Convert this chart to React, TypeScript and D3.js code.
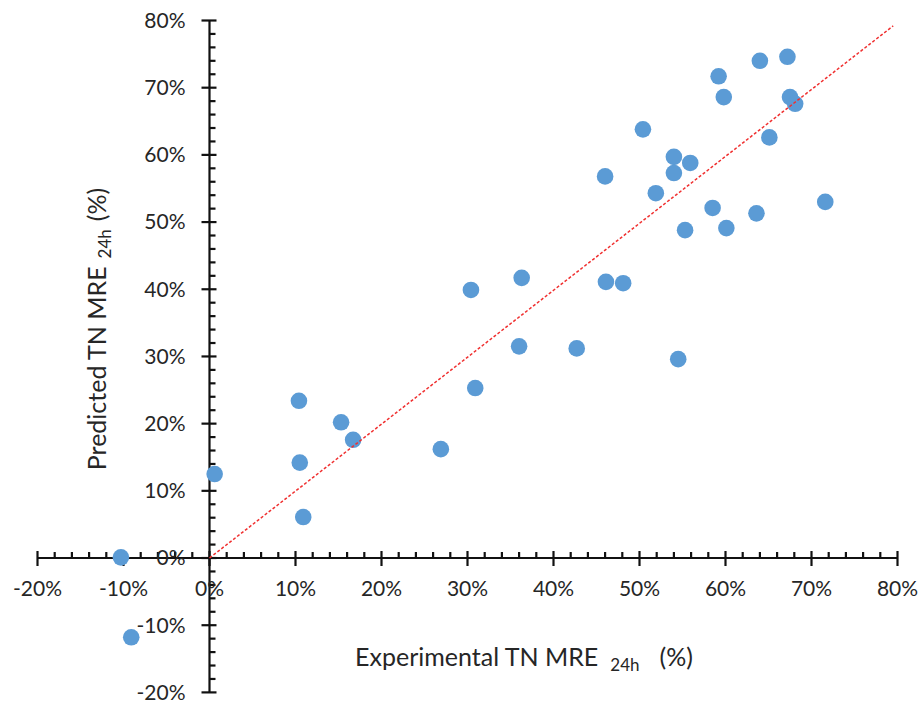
import { useEffect, useRef } from "react";
import * as d3 from "d3";

// experimental vs predicted TN MRE 24h, in %
const experimental = [
  -10.3, -9.1, 0.6, 10.4, 10.5, 10.9, 15.3, 16.7, 26.9, 30.4, 30.9, 36.0,
  36.3, 42.7, 46.1, 48.1, 46.0, 50.4, 54.0, 54.0, 55.9, 51.9, 54.5, 55.3,
  58.5, 60.1, 59.2, 59.8, 64.0, 67.2, 67.5, 68.1, 65.1, 63.6, 71.6,
];
const predicted = [
  0.1, -11.8, 12.5, 23.4, 14.2, 6.1, 20.2, 17.6, 16.2, 39.9, 25.3, 31.5,
  41.7, 31.2, 41.1, 40.9, 56.8, 63.8, 59.7, 57.3, 58.8, 54.3, 29.6, 48.8,
  52.1, 49.1, 71.7, 68.6, 74.0, 74.6, 68.6, 67.6, 62.6, 51.3, 53.0,
];
const majorTicks = [-20, -10, 0, 10, 20, 30, 40, 50, 60, 70, 80];
const fitLine = [
  [0, 0],
  [79.5, 79.2],
];

export default function App() {
  const svgRef = useRef<SVGSVGElement | null>(null);

  useEffect(() => {
    document.body.style.margin = "0";
    const width = 923;
    const height = 705;
    const svg = d3.select(svgRef.current);
    svg.selectAll("*").remove();
    svg.attr("width", width).attr("height", height);

    svg.append("rect").attr("width", width).attr("height", height).attr("fill", "#fff");

    const x = d3.scaleLinear().domain([-20, 80]).range([37.5, 897.5]);
    const y = d3.scaleLinear().domain([-20, 80]).range([692.4, 20.5]);

    const font = "Lato, 'Open Sans', sans-serif";
    const textColor = "#262626";
    const minorTicks = d3.range(-20, 80.01, 2).filter((v) => Math.round(v) % 10 !== 0);

    const axes = svg.append("g").attr("stroke", "#111").attr("stroke-width", 2.2);

    // x axis at y = 0
    axes.append("line")
      .attr("x1", x(-20)).attr("x2", x(80))
      .attr("y1", y(0)).attr("y2", y(0));
    axes.selectAll(".xmaj").data(majorTicks).join("line")
      .attr("class", "xmaj")
      .attr("x1", (d) => x(d)).attr("x2", (d) => x(d))
      .attr("y1", y(0) - 7).attr("y2", y(0) + 8);
    axes.selectAll(".xmin").data(minorTicks).join("line")
      .attr("class", "xmin")
      .attr("x1", (d) => x(d)).attr("x2", (d) => x(d))
      .attr("y1", y(0) - 6).attr("y2", y(0));

    // y axis at x = 0
    axes.append("line")
      .attr("x1", x(0)).attr("x2", x(0))
      .attr("y1", y(-20)).attr("y2", y(80));
    axes.selectAll(".ymaj").data(majorTicks).join("line")
      .attr("class", "ymaj")
      .attr("x1", x(0) - 8).attr("x2", x(0) + 7)
      .attr("y1", (d) => y(d)).attr("y2", (d) => y(d));
    axes.selectAll(".ymin").data(minorTicks).join("line")
      .attr("class", "ymin")
      .attr("x1", x(0)).attr("x2", x(0) + 6)
      .attr("y1", (d) => y(d)).attr("y2", (d) => y(d));

    // tick labels
    svg.append("g").selectAll("text").data(majorTicks).join("text")
      .attr("x", (d) => x(d))
      .attr("y", y(0) + 31)
      .attr("dy", "0.35em")
      .attr("text-anchor", "middle")
      .attr("font-family", font).attr("font-size", 21).attr("fill", textColor)
      .text((d) => d + "%");

    svg.append("g").selectAll("text").data(majorTicks).join("text")
      .attr("x", x(0) - 24)
      .attr("y", (d) => y(d))
      .attr("dy", "0.35em")
      .attr("text-anchor", "end")
      .attr("font-family", font).attr("font-size", 21).attr("fill", textColor)
      .text((d) => d + "%");

    // points
    const pts = experimental.map((v, i) => [v, predicted[i]]);
    svg.append("g").selectAll("circle").data(pts).join("circle")
      .attr("cx", (d) => x(d[0]))
      .attr("cy", (d) => y(d[1]))
      .attr("r", 8.3)
      .attr("fill", "#5B9BD5");

    // 1:1 dashed line
    svg.append("path")
      .datum(fitLine)
      .attr("d", d3.line().x((d) => x(d[0])).y((d) => y(d[1])))
      .attr("fill", "none")
      .attr("stroke", "#f03030")
      .attr("stroke-width", 1.5)
      .attr("stroke-dasharray", "3,2");

    // axis titles
    const xt = svg.append("text")
      .attr("x", 524).attr("y", 666)
      .attr("text-anchor", "middle")
      .attr("font-family", font).attr("font-size", 25).attr("fill", textColor);
    xt.append("tspan").text("Experimental TN MRE");
    xt.append("tspan").attr("font-size", 17).attr("dy", 5).attr("dx", 12).text("24h");
    xt.append("tspan").attr("dy", -5).attr("dx", 20).text("(%)");

    const yt = svg.append("text")
      .attr("transform", `translate(106, 329) rotate(-90)`)
      .attr("text-anchor", "middle")
      .attr("font-family", font).attr("font-size", 25).attr("fill", textColor);
    yt.append("tspan").text("Predicted TN MRE");
    yt.append("tspan").attr("font-size", 17).attr("dy", 5).attr("dx", 8).text("24h");
    yt.append("tspan").attr("dy", -5).attr("dx", 8).text("(%)");
  }, []);

  return <svg ref={svgRef} style={{ display: "block" }} />;
}
